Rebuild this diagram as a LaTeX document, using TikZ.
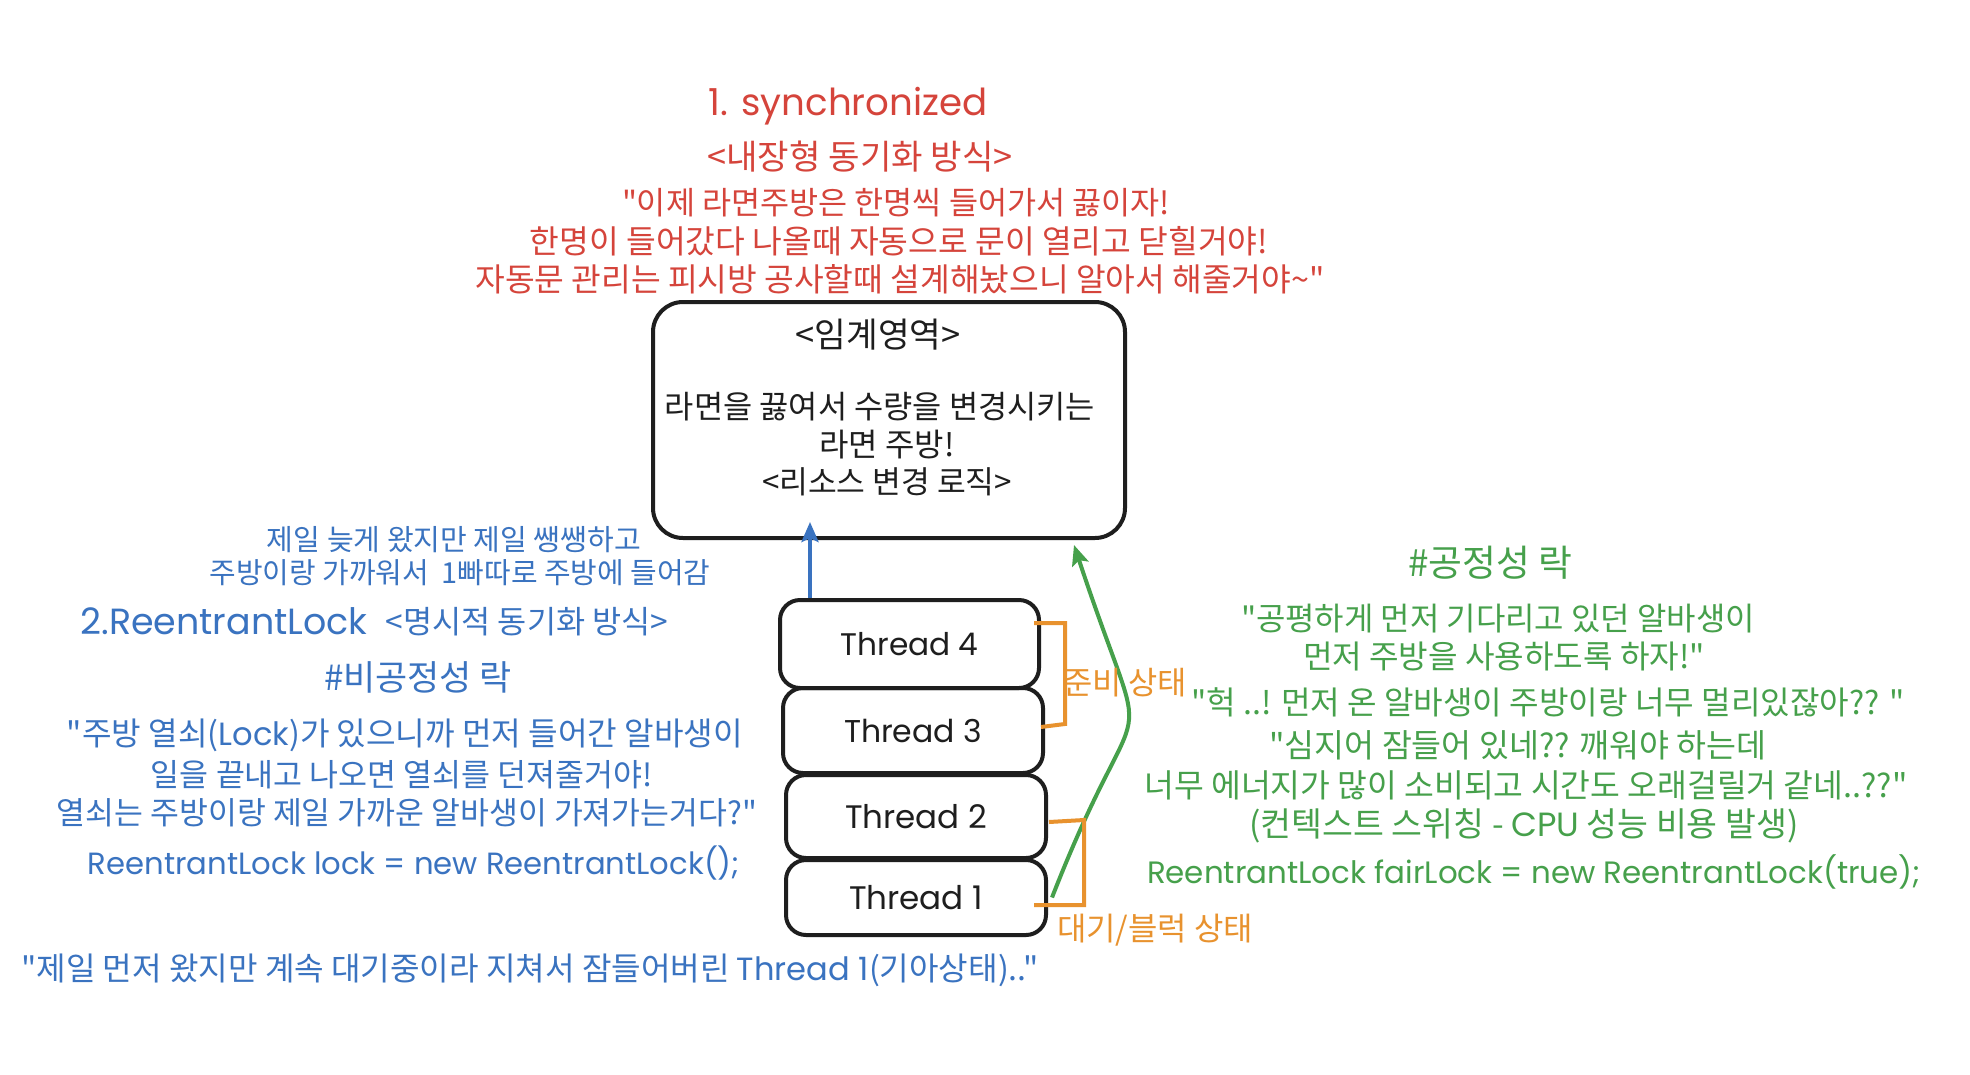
\documentclass[tikz,border=0pt]{standalone}
\usepackage{fontspec}
\usepackage{graphicx}
\setmainfont{Noto Sans CJK KR}[Ligatures=TeXOff]
\newfontfamily\lat{Poppins}[Ligatures=TeXOff]
\usetikzlibrary{arrows.meta,calc}
\definecolor{cred}{HTML}{D5443B}
\definecolor{cblue}{HTML}{3A73C0}
\definecolor{cgreen}{HTML}{46A04B}
\definecolor{corange}{HTML}{E8922E}
\definecolor{ink}{HTML}{1E1E1E}
\newcommand\fw[2]{\resizebox{#1pt}{!}{\vphantom{가}#2}}
\begin{document}
\begin{tikzpicture}[x=1pt,y=-1pt,
  every node/.style={inner sep=0pt,font=\fontsize{28}{34}\selectfont},
  cbox/.style={draw=ink,line width=4pt,rounded corners=30pt},
  tbox/.style={draw=ink,line width=4pt,rounded corners=20pt,text=ink},
  redtxt/.style={text=cred},
  bluetxt/.style={text=cblue},
  greentxt/.style={text=cgreen},
  oratxt/.style={text=corange},
  inktxt/.style={text=ink},
  brk/.style={draw=corange,line width=4pt,line join=miter},
  tip/.style={-{Stealth[length=20pt,width=17pt,inset=4pt]}},
]
\fill[white] (0,0) rectangle (1970,1074);
\useasboundingbox (0,0) rectangle (1970,1074);

% red header
\node[redtxt] (r1) at (848,105) {\fw{279}{\lat 1. synchronized}};
\node[redtxt] (r2) at (860,157) {\fw{305}{<내장형 동기화 방식>}};
\node[redtxt] (r3) at (896,203) {\fw{548}{"이제 라면주방은 한명씩 들어가서 끓이자!}};
\node[redtxt] (r4) at (899,241) {\fw{738}{한명이 들어갔다 나올때 자동으로 문이 열리고 닫힐거야!}};
\node[redtxt] (r5) at (900,279) {\fw{849}{자동문 관리는 피시방 공사할때 설계해놨으니 알아서 해줄거야\textasciitilde"}};

% critical section box
\node[cbox,minimum width=472pt,minimum height=236pt] (crit) at (889,420) {};
\node[inktxt] (k1) at (878,335) {\fw{165}{<임계영역>}};
\node[inktxt] (k2) at (880,407) {\fw{430}{라면을 끓여서 수량을 변경시키는}};
\node[inktxt] (k3) at (887,445) {\fw{135}{라면 주방!}};
\node[inktxt] (k4) at (887,482) {\fw{250}{<리소스 변경 로직>}};

% threads
\node[tbox,minimum width=259pt,minimum height=88pt] (t4) at (909.5,644) {\fw{138}{\lat Thread 4}};
\node[tbox,minimum width=260pt,minimum height=85pt] (t3) at (913,730.5) {\fw{138}{\lat Thread 3}};
\node[tbox,minimum width=260pt,minimum height=83pt] (t2) at (916,816.5) {\fw{142}{\lat Thread 2}};
\node[tbox,minimum width=260pt,minimum height=75pt] (t1) at (916,897.5) {\fw{134}{\lat Thread 1}};

% connectors
\draw[cblue,line width=4pt,tip] ($(t4.north west)+(32,0)$) -- ($(crit.south west)+(159,-18)$);
\draw[cgreen,line width=4pt,tip] ($(t1.east)+(4,0)$) .. controls (1145,659) and (1154,786) .. ($(crit.south east)+(-53,5)$);

% orange brackets
\draw[brk] ($(t4.north east)+(-7,25)$) -- ++(31,0) -- ++(0,101) -- ($(t3.east)+(-4,-3.5)$);
\draw[brk] ($(t2.east)+(1,5.5)$) -- ++(35,-2) -- ++(0,85) -- ($(t1.east)+(-14,7.5)$);
\node[oratxt] (o1) at (1125,683) {\fw{124}{준비 상태}};
\node[oratxt] (o2) at (1155,930) {\fw{196}{대기/블럭 상태}};

% blue texts
\node[bluetxt] (b1) at (454,540) {\fw{374}{제일 늦게 왔지만 제일 쌩쌩하고}};
\node[bluetxt] (b2) at (460,573) {\fw{501}{주방이랑 가까워서\ \ 1빠따로 주방에 들어감}};
\node[bluetxt] (b3) at (224,621) {\fw{287}{\lat 2.ReentrantLock}};
\node[bluetxt] (b4) at (527,622) {\fw{282}{<명시적 동기화 방식>}};
\node[bluetxt] (b5) at (418,677) {\fw{188}{\#비공정성 락}};
\node[bluetxt] (b6) at (405,735) {\fw{676}{"주방 열쇠({\lat Lock})가 있으니까 먼저 들어간 알바생이}};
\node[bluetxt] (b7) at (402,775) {\fw{502}{일을 끝내고 나오면 열쇠를 던져줄거야!}};
\node[bluetxt] (b8) at (407,813) {\fw{700}{열쇠는 주방이랑 제일 가까운 알바생이 가져가는거다?"}};
\node[bluetxt] (b9) at (414,863) {\fw{652}{\lat ReentrantLock lock = new ReentrantLock();}};
\node[bluetxt] (b10) at (530,970) {\fw{1017}{"제일 먼저 왔지만 계속 대기중이라 지쳐서 잠들어버린 {\lat Thread 1}(기아상태).."}};

% green texts
\node[greentxt] (g1) at (1490,563) {\fw{164}{\#공정성 락}};
\node[greentxt] (g2) at (1498,619) {\fw{514}{"공평하게 먼저 기다리고 있던 알바생이}};
\node[greentxt] (g3) at (1504,656) {\fw{402}{먼저 주방을 사용하도록 하자!"}};
\node[greentxt] (g4) at (1548,702) {\fw{713}{"헉 ..! 먼저 온 알바생이 주방이랑 너무 멀리있잖아?? "}};
\node[greentxt] (g5) at (1518,745) {\fw{497}{"심지어 잠들어 있네?? 깨워야 하는데}};
\node[greentxt] (g6) at (1526,785) {\fw{763}{너무 에너지가 많이 소비되고 시간도 오래걸릴거 같네..??"}};
\node[greentxt] (g7) at (1524,826) {\fw{549}{(컨텍스트 스위칭 - {\lat CPU} 성능 비용 발생)}};
\node[greentxt] (g8) at (1534,872) {\fw{774}{\lat ReentrantLock fairLock = new ReentrantLock(true);}};
\end{tikzpicture}
\end{document}
